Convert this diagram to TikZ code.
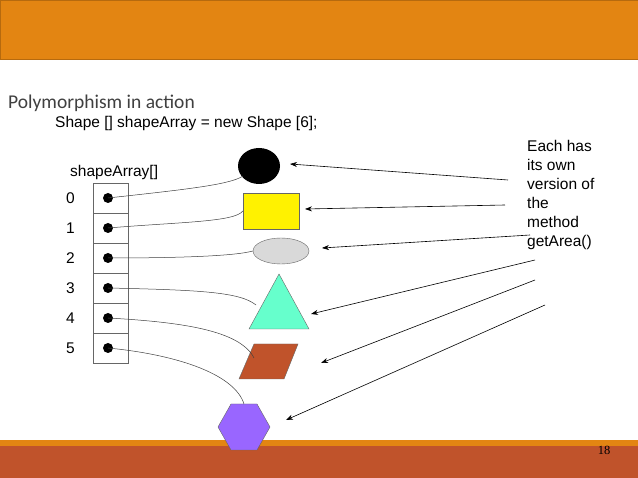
\documentclass[tikz,border=0pt]{standalone}
\usepackage{fontspec}
\setmainfont{Liberation Sans}
\newfontfamily\titlefont{Carlito}
\newfontfamily\numfont{Liberation Serif}
\usetikzlibrary{arrows.meta,shapes.geometric}
\definecolor{barorange}{RGB}{227,133,18}
\definecolor{barbrown}{RGB}{192,83,43}
\definecolor{tricol}{RGB}{102,255,204}
\definecolor{hexcol}{RGB}{153,102,255}
\begin{document}
\begin{tikzpicture}[x=1pt,y=-1pt,
  txt/.style={font=\fontsize{15.5}{18}\selectfont,anchor=west,inner sep=0},
  link/.style={draw=black!75,line width=0.5pt},
  arr/.style={draw=black,line width=0.6pt,-{Stealth[length=7pt,width=5pt]}},
  dot/.style={circle,fill=black,inner sep=0,minimum size=10pt}]
\useasboundingbox (0,0) rectangle (638,478);
\fill[white] (0,0) rectangle (638,478);
\filldraw[draw=barorange!80!black,fill=barorange] (0,0) rectangle (638,59);
\fill[barorange] (0,440) rectangle (638,446);
\fill[barbrown] (0,446) rectangle (638,478);
\node[inner sep=0,font=\numfont\fontsize{12.5}{14}\selectfont] (pg) at (604,450) {18};
\node[anchor=west,inner sep=0,text=black!75,font=\titlefont\fontsize{19.5}{22}\selectfont] (title) at (8,103) {Polymorphism in action};
\node[txt] (code) at (55,123) {Shape [] shapeArray = new Shape [6];};
\node[txt] (lbl) at (70,172) {shapeArray[]};
\foreach \i in {0,...,5}{
  \node[draw=black!60,minimum width=35pt,minimum height=30pt,inner sep=0] (c\i) at (110.5,{198+30*\i}) {};
  \node[dot] (d\i) at (108,{198+30*\i}) {};
  \node[txt] (n\i) at (66,{198+30*\i}) {\i};
}
\node[ellipse,fill=black,minimum width=42pt,minimum height=36pt,inner sep=0] (e0) at (259,166) {};
\node[draw=black!60,fill=yellow,minimum width=56pt,minimum height=36pt,inner sep=0] (r1) at (271,211) {};
\node[draw=black!60,fill=black!15,ellipse,minimum width=56pt,minimum height=26pt,inner sep=0] (e2) at (281,251) {};
\draw[black!60,fill=tricol] (279,274) -- (309,329) -- (249,329) -- cycle;
\draw[black!60,fill=barbrown] (254,344) -- (298,344) -- (284,379) -- (239,379) -- cycle;
\draw[black!60,fill=hexcol] (218,427) -- (231,404) -- (257,404) -- (270,427) -- (257,450) -- (231,450) -- cycle;
\coordinate (t3) at (256,305);
\coordinate (p4) at (254,358);
\coordinate (h5) at (244,404);
\draw[link] (d0.center) .. controls (180,190) and (230,185) .. (243,176);
\draw[link] (d1.center) .. controls (180,222) and (235,222) .. (r1.west);
\draw[link] (d2.center) .. controls (180,258) and (235,256) .. (e2.west);
\draw[link] (d3.center) .. controls (200,290) and (240,292) .. (t3);
\draw[link] (d4.center) .. controls (180,322) and (240,330) .. (p4);
\draw[link] (d5.center) .. controls (180,355) and (235,375) .. (h5);
\node[anchor=north west,inner sep=0,align=left,font=\fontsize{15.5}{19}\selectfont] (note) at (527,140) {Each has\\its own\\version of\\the\\method\\getArea()};
\coordinate (s0) at (508,180); \coordinate (s1) at (505,205); \coordinate (s2) at (530,235);
\coordinate (s3) at (535,260); \coordinate (s4) at (535,280); \coordinate (s5) at (545,305);
\coordinate (a0) at (290,164); \coordinate (a1) at (305,209); \coordinate (a2) at (322,248);
\coordinate (a3) at (311,314); \coordinate (a4) at (321,363); \coordinate (a5) at (286,420);
\foreach \k in {0,...,5}{\draw[arr] (s\k) -- (a\k);}
\end{tikzpicture}
\end{document}
